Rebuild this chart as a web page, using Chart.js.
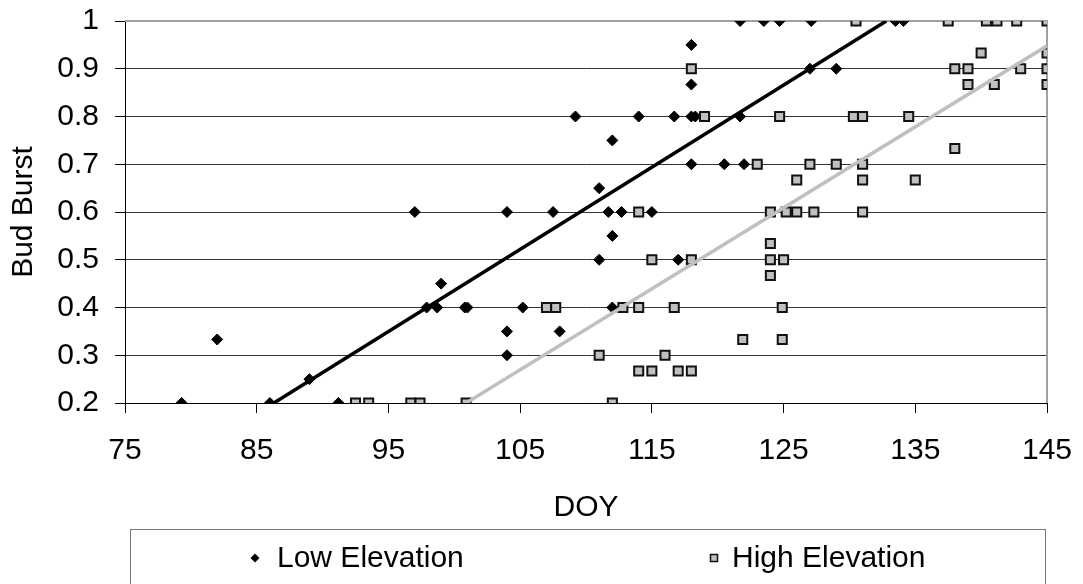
<!DOCTYPE html>
<html>
<head>
<meta charset="utf-8">
<script src="https://cdn.jsdelivr.net/npm/chart.js@4.4.1/dist/chart.umd.min.js"></script>
<style>
  html, body { margin: 0; padding: 0; background: #fff; }
  #wrap { width: 1083px; height: 584px; position: relative; }
</style>
</head>
<body>
<div id="wrap"><canvas id="c" width="1083" height="584"></canvas></div>
<script>
// ---- Data ----
const seriesNames = ['Low Elevation', 'High Elevation'];
const xTitle = 'DOY';
const yTitle = 'Bud Burst';

const lowX = [79.3, 86, 91.2, 89, 104, 82, 104, 108, 97.9, 98.7, 100.8, 101, 105.2, 112, 99, 111, 117, 112,
  97, 104, 107.5, 111.7, 112.7, 115, 111, 118, 120.5, 122, 112, 109.2, 114, 116.7, 118, 118.3, 121.7,
  118, 127, 129, 118, 121.7, 123.5, 124.7, 127.1, 133.5, 134.1];
const lowY = [0.2, 0.2, 0.2, 0.25, 0.3, 0.333, 0.35, 0.35, 0.4, 0.4, 0.4, 0.4, 0.4, 0.4, 0.45, 0.5, 0.5, 0.55,
  0.6, 0.6, 0.6, 0.6, 0.6, 0.6, 0.65, 0.7, 0.7, 0.7, 0.75, 0.8, 0.8, 0.8, 0.8, 0.8, 0.8,
  0.867, 0.9, 0.9, 0.95, 1, 1, 1, 1, 1, 1];

const highX = [92.5, 93.5, 96.7, 97.4, 100.9, 112, 114, 115, 117, 118, 111, 116, 121.9, 124.9,
  107, 107.7, 112.8, 114, 116.7, 124.9, 124, 115, 118, 124, 125, 124,
  114, 124, 125.2, 126, 127.3, 131, 126, 131, 135, 123, 127, 129, 131, 138,
  119, 124.7, 130.3, 131, 134.5, 139, 141, 145, 118, 138, 139, 143, 145, 140, 145,
  130.5, 137.5, 140.4, 141.2, 142.7, 145];
const highY = [0.2, 0.2, 0.2, 0.2, 0.2, 0.2, 0.267, 0.267, 0.267, 0.267, 0.3, 0.3, 0.333, 0.333,
  0.4, 0.4, 0.4, 0.4, 0.4, 0.4, 0.467, 0.5, 0.5, 0.5, 0.5, 0.534,
  0.6, 0.6, 0.6, 0.6, 0.6, 0.6, 0.667, 0.667, 0.667, 0.7, 0.7, 0.7, 0.7, 0.733,
  0.8, 0.8, 0.8, 0.8, 0.8, 0.867, 0.867, 0.867, 0.9, 0.9, 0.9, 0.9, 0.9, 0.933, 0.933,
  1, 1, 1, 1, 1, 1];

// Linear trend lines (end points)
const trendLowX = [86.3, 132.8];
const trendLowY = [0.2, 1.0];
const trendHighX = [100.9, 145];
const trendHighY = [0.2, 0.948];

const xMin = 75, xMax = 145, xStep = 10;
const yMin = 0.2, yMax = 1, yStep = 0.1;

// ---- Build chart ----
const zip = (xs, ys) => xs.map((x, i) => ({ x: x, y: ys[i] }));

Chart.defaults.font.family = '"Liberation Sans", Arial, sans-serif';
Chart.defaults.font.size = 30;
Chart.defaults.color = '#000';

const frame = {
  id: 'frame',
  beforeDatasetsDraw(chart) {
    const { ctx, chartArea: a } = chart;
    ctx.save();
    ctx.strokeStyle = '#a0a0a0';
    ctx.lineWidth = 2;
    ctx.beginPath();
    ctx.moveTo(a.left, a.top);
    ctx.lineTo(a.right, a.top);
    ctx.lineTo(a.right, a.bottom);
    ctx.stroke();
    ctx.restore();
  }
};

const legendBox = {
  id: 'legendBox',
  afterDraw(chart) {
    const { ctx } = chart;
    ctx.save();
    ctx.strokeStyle = '#777';
    ctx.lineWidth = 1;
    ctx.strokeRect(130.5, 529.5, 915, 80);
    const cy = 558;
    // diamond
    ctx.fillStyle = '#000';
    ctx.beginPath();
    ctx.moveTo(255 - 4.5, cy);
    ctx.lineTo(255, cy - 4.5);
    ctx.lineTo(255 + 4.5, cy);
    ctx.lineTo(255, cy + 4.5);
    ctx.closePath();
    ctx.fill();
    // square
    ctx.fillStyle = '#c0c0c0';
    ctx.strokeStyle = '#111';
    ctx.lineWidth = 1.5;
    ctx.fillRect(710.5, cy - 3.5, 7, 7);
    ctx.strokeRect(710.5, cy - 3.5, 7, 7);
    ctx.fillStyle = '#000';
    ctx.font = '30px "Liberation Sans", Arial, sans-serif';
    ctx.textBaseline = 'alphabetic';
    ctx.textAlign = 'left';
    ctx.fillText(seriesNames[0], 277, 567);
    ctx.fillText(seriesNames[1], 732, 567);
    ctx.restore();
  }
};

new Chart(document.getElementById('c'), {
  type: 'scatter',
  data: {
    datasets: [
      {
        label: 'Low trend',
        data: zip(trendLowX, trendLowY),
        showLine: true,
        borderColor: '#000',
        borderWidth: 3.5,
        pointRadius: 0,
        fill: false
      },
      {
        label: 'High trend',
        data: zip(trendHighX, trendHighY),
        showLine: true,
        borderColor: '#c0c0c0',
        borderWidth: 3.5,
        pointRadius: 0,
        fill: false
      },
      {
        label: seriesNames[1],
        data: zip(highX, highY),
        pointStyle: 'rect',
        pointRadius: 6.4,
        pointBackgroundColor: '#c0c0c0',
        pointBorderColor: '#111',
        pointBorderWidth: 2
      },
      {
        label: seriesNames[0],
        data: zip(lowX, lowY),
        pointStyle: 'rectRot',
        pointRadius: 5.5,
        pointBackgroundColor: '#000',
        pointBorderColor: '#000',
        pointBorderWidth: 1
      }
    ]
  },
  options: {
    responsive: false,
    animation: false,
    devicePixelRatio: 1,
    layout: { padding: { left: 0, right: 36, top: 21, bottom: 55 } },
    plugins: {
      legend: { display: false },
      tooltip: { enabled: false }
    },
    scales: {
      x: {
        type: 'linear',
        min: xMin, max: xMax,
        afterFit(s) { s.height = 126; s.paddingLeft = 0; s.paddingRight = 0; },
        ticks: { stepSize: xStep, padding: 20, font: { size: 30 }, color: '#000', maxRotation: 0 },
        grid: { drawOnChartArea: false, drawTicks: true, tickLength: 10, color: '#000', tickColor: '#000' },
        border: { display: true, color: '#000', width: 1 },
        title: { display: true, text: xTitle, font: { size: 30 }, color: '#000', padding: { top: 0, bottom: 3 } }
      },
      y: {
        type: 'linear',
        min: yMin, max: yMax,
        afterFit(s) { s.width = 125; s.paddingTop = 0; s.paddingBottom = 0; },
        ticks: {
          stepSize: yStep, padding: 16, font: { size: 30 }, color: '#000',
          callback: (v) => String(Number(v.toFixed(1)))
        },
        grid: { drawOnChartArea: true, drawTicks: true, tickLength: 10, color: '#333', tickColor: '#000' },
        border: { display: true, color: '#000', width: 1 },
        title: { display: true, text: yTitle, font: { size: 30 }, color: '#000', padding: { top: 6, bottom: 0 } }
      }
    }
  },
  plugins: [frame, legendBox]
});
</script>
</body>
</html>
